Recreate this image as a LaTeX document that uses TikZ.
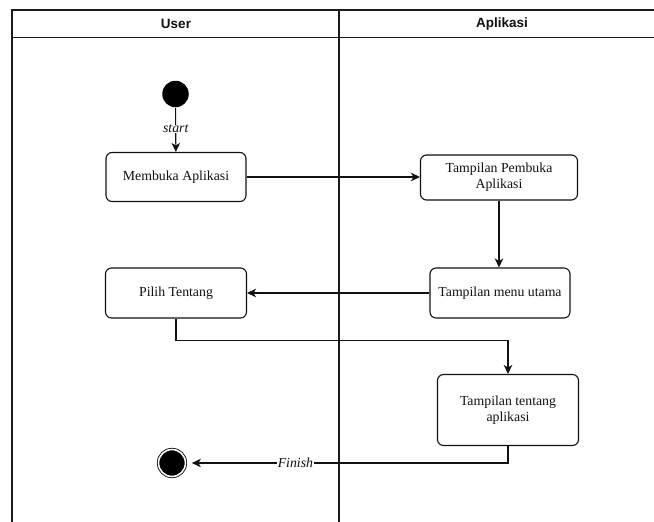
\documentclass[tikz,border=0pt]{standalone}
\usepackage{fontspec}
\setmainfont{Liberation Serif}
\setsansfont{Liberation Sans}
\usetikzlibrary{arrows.meta,positioning,calc}
\definecolor{cInk}{HTML}{111111}
\definecolor{cLane}{HTML}{1A1A1A}
\tikzset{
  every picture/.style={line width=1.1pt},
  act/.style={draw=cInk, fill=white, rounded corners=6pt, align=center,
              inner sep=2pt, font=\fontsize{13.8}{16}\selectfont, text=cInk},
  lanehead/.style={font=\sffamily\bfseries\fontsize{13.5}{15}\selectfont, text=cInk},
  lane/.style={draw=cLane, line width=1.2pt},
  flow/.style={-{Stealth[length=9pt,width=8.5pt,inset=2.5pt]}, draw=cInk},
  lbl/.style={fill=white, inner sep=0.5pt, text=cInk,
              font=\itshape\fontsize{13.8}{16}\selectfont},
  initial/.style={circle, fill=black, minimum size=26.5pt, inner sep=0pt},
  final/.style={circle, draw=black, line width=0.8pt, fill=black,
                double=white, double distance=1.6pt, minimum size=27pt, inner sep=0pt},
}

\begin{document}
\begin{tikzpicture}[x=1pt,y=-1pt]
\useasboundingbox (0,0) rectangle (654,522);

% ------------------------------------------------------------ swimlanes
\draw[lane] (12,522) -- (12,10) -- (654,10);
\draw[lane] (12,37.5) -- (654,37.5);
\draw[lane] (339,10) -- (339,522);
\node[lanehead] (hUser) at (176,24) {User};
\node[lanehead] (hApp)  at (502,24) {Aplikasi};

% ------------------------------------------------------------ user lane
\node[initial] (start) at (175.5,94) {};
\node[act, minimum width=140pt, minimum height=49pt] (buka)  at (176,177) {Membuka Aplikasi};
\node[act, minimum width=141pt, minimum height=50pt] (pilih) at (176,293) {Pilih Tentang};
\node[final] (finish) at (172,463) {};

% ------------------------------------------------------------ app lane
\node[act, minimum width=157pt, minimum height=45pt] (pembuka) at (499,177.5)
      {Tampilan Pembuka\\ Aplikasi};
\node[act, minimum width=140pt, minimum height=50pt] (menu)    at (500,293) {Tampilan menu utama};
\node[act, minimum width=141pt, minimum height=71pt] (tentang) at (508,410)
      {Tampilan tentang\\ aplikasi};

% ------------------------------------------------------------ flows
\draw[flow] (start) -- node[lbl, pos=0.48]{start} (buka);
\draw[flow] (buka) -- (pembuka.west |- buka.east);
\draw[flow] (pembuka.south) -- (pembuka.south |- menu.north);
\draw[flow] (menu.west) -- (pilih.east |- menu.west);
\draw[flow] (pilih.south) -- ++(0,21.5) -| (tentang.north);
\draw[flow, shorten >=6pt] (tentang.south) |- node[lbl, pos=0.83]{Finish} (finish.east);

\end{tikzpicture}
\end{document}
